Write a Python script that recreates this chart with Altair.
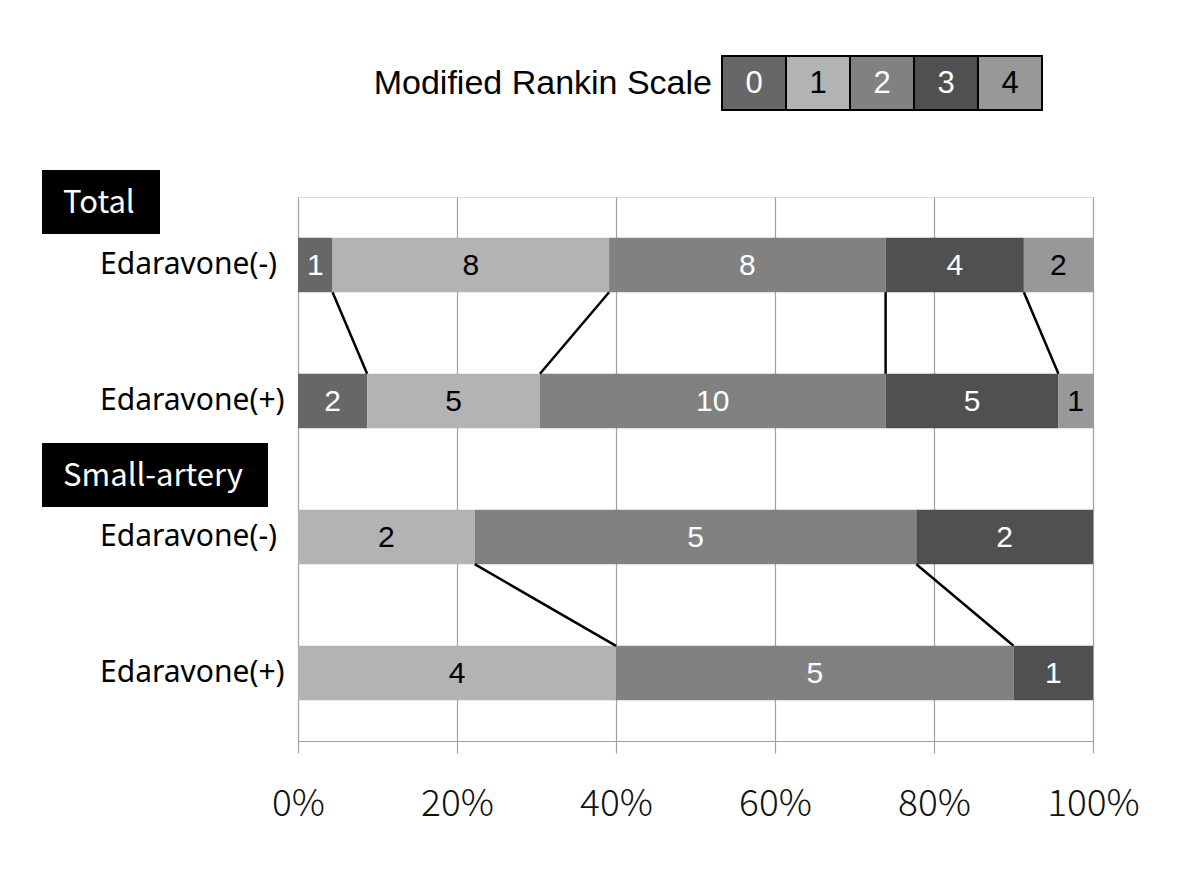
import altair as alt
import pandas as pd

# ---------------- data ----------------
groups = ["Total", "Small-artery"]
arms = ["Edaravone(-)", "Edaravone(+)"]
mrs_levels = [0, 1, 2, 3, 4]
total_minus = [1, 8, 8, 4, 2]
total_plus = [2, 5, 10, 5, 1]
small_minus = [0, 2, 5, 2, 0]
small_plus = [0, 4, 5, 1, 0]
x_ticks = [0, 0.2, 0.4, 0.6, 0.8, 1.0]

series = [total_minus, total_plus, small_minus, small_plus]

# ---------------- style ----------------
bar_colors = ["#676767", "#b3b3b3", "#818181", "#505050", "#989898"]
text_colors = ["white", "black", "white", "white", "black"]
W, H = 795, 544
HALF = 0.2  # half bar thickness in row units

# ---------------- tables ----------------
bar_rows = []
cums = []
for r, counts in enumerate(series):
    tot = sum(counts)
    c = 0
    cum = []
    for k, n in enumerate(counts):
        start = c / tot
        c += n
        end = c / tot
        cum.append(end)
        if n > 0:
            bar_rows.append(dict(row=r, mrs=str(mrs_levels[k]), n=n, start=start, end=end,
                                 mid=(start + end) / 2, y0=r + 0.5 - HALF, y1=r + 0.5 + HALF,
                                 yc=r + 0.5, tcol=text_colors[k]))
    cums.append(cum)
bars = pd.DataFrame(bar_rows)

rule_rows = []
for g in range(len(groups)):
    up, lo = 2 * g, 2 * g + 1
    for k in range(len(mrs_levels) - 1):
        cu, cl = cums[up][k], cums[lo][k]
        if 0 < cu < 1 and 0 < cl < 1:
            rule_rows.append(dict(xa=cu, xb=cl, ya=up + 0.5 + HALF, yb=lo + 0.5 - HALF))
rules = pd.DataFrame(rule_rows)

labels = pd.DataFrame([dict(lab=arms[r % 2], yc=r + 0.5) for r in range(len(series))])

# group header boxes (pixel offsets relative to plot origin)
box_df = pd.DataFrame(dict(
    name=groups,
    bx0=[-256, -256], bx1=[-138, -30],
    by0=[-27, 246], by1=[37, 310],
    tx=[-235, -235], ty=[7, 280],
))

# legend boxes
leg = pd.DataFrame(dict(mrs=[str(m) for m in mrs_levels]))
leg["lx0"] = [424 + 64 * i for i in range(len(mrs_levels))]
leg["lx1"] = leg["lx0"] + 64
leg["lxc"] = leg["lx0"] + 32
leg["tcol"] = text_colors

xscale = alt.Scale(domain=[0, 1], nice=False)
yscale = alt.Scale(domain=[0, 4], reverse=True, nice=False, zero=False)
cscale = alt.Scale(domain=[str(m) for m in mrs_levels], range=bar_colors)

bar_layer = alt.Chart(bars).mark_rect().encode(
    x=alt.X("start:Q", scale=xscale,
            axis=alt.Axis(values=x_ticks, format="%", title=None, grid=True,
                          gridColor="#a0a0a0", gridWidth=1.2, domainColor="#a0a0a0",
                          domainWidth=1.2, tickColor="#a0a0a0", tickSize=12, tickWidth=1.2,
                          labelFont="Noto Sans CJK JP", labelFontWeight=300, labelFontSize=37,
                          labelColor="#111111", labelPadding=33, labelFlush=False,
                          labelOverlap=False)),
    x2="end:Q",
    y=alt.Y("y0:Q", scale=yscale, axis=None),
    y2="y1:Q",
    color=alt.Color("mrs:N", scale=cscale, legend=None),
)

bar_text = alt.Chart(bars).mark_text(font="Liberation Sans", fontSize=30, baseline="middle",
                                     align="center", dy=1).encode(
    x=alt.X("mid:Q", scale=xscale),
    y=alt.Y("yc:Q", scale=yscale),
    text="n:Q",
    color=alt.Color("tcol:N", scale=None),
)

rule_layer = alt.Chart(rules).mark_rule(color="black", strokeWidth=2.5).encode(
    x=alt.X("xa:Q", scale=xscale), x2="xb:Q",
    y=alt.Y("ya:Q", scale=yscale), y2="yb:Q",
)

row_labels = alt.Chart(labels).mark_text(font="Noto Sans", fontSize=30, align="left",
                                         baseline="middle", color="black").encode(
    x=alt.value(-198),
    y=alt.Y("yc:Q", scale=yscale),
    text="lab:N",
)

box_layer = alt.Chart(box_df).mark_rect(color="black").encode(
    x=alt.X("bx0:Q", scale=None), x2="bx1:Q",
    y=alt.Y("by0:Q", scale=None), y2="by1:Q",
)
box_text = alt.Chart(box_df).mark_text(font="Noto Sans CJK JP", fontSize=31, align="left",
                                       baseline="middle", color="white").encode(
    x=alt.X("tx:Q", scale=None),
    y=alt.Y("ty:Q", scale=None),
    text="name:N",
)

leg_rect = alt.Chart(leg).mark_rect(stroke="black", strokeWidth=2).encode(
    x=alt.X("lx0:Q", scale=None), x2="lx1:Q",
    y=alt.value(-141), y2=alt.value(-87),
    color=alt.Color("mrs:N", scale=cscale, legend=None),
)
leg_text = alt.Chart(leg).mark_text(font="Liberation Sans", fontSize=31, align="center",
                                    baseline="middle", dy=1).encode(
    x=alt.X("lxc:Q", scale=None),
    y=alt.value(-114),
    text="mrs:N",
    color=alt.Color("tcol:N", scale=None),
)
leg_title = alt.Chart(pd.DataFrame(dict(t=["Modified Rankin Scale"]))).mark_text(
    font="Liberation Sans", fontSize=34, align="right", baseline="middle", color="black"
).encode(x=alt.value(414), y=alt.value(-113), text="t:N")

chart = alt.layer(
    bar_layer, bar_text, rule_layer, row_labels, box_layer, box_text,
    leg_rect, leg_text, leg_title,
).properties(
    width=W, height=H,
    autosize=alt.AutoSizeParams(type="none"),
    padding={"left": 290, "top": 189, "right": 90, "bottom": 110},
).configure_view(stroke=None).configure(background="white")

chart.save("out.html", embed_options={"renderer": "svg", "actions": False})
